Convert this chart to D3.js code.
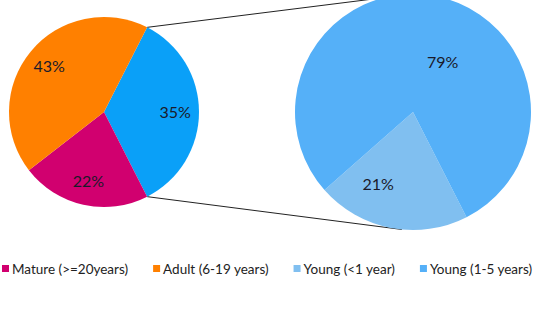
<!DOCTYPE html>
<html>
<head>
<meta charset="utf-8">
<script src="https://cdn.jsdelivr.net/npm/d3@7"></script>
<style>
  body { margin: 0; background: #fff; }
  svg { display: block; font-family: Lato, "Open Sans", sans-serif; }
</style>
</head>
<body>
<div id="chart"></div>
<script>
'use strict';

// primary pie: the "other" slice (young, combined) comes first
var primaryLabels = ['Young (all)', 'Mature (>=20years)', 'Adult (6-19 years)'];
var primaryValues = [35, 22, 43];
var primaryColors = ['#0aa0f8', '#d1006f', '#ff8000'];

// secondary pie breaks the young slice down
var secondaryLabels = ['Young (<1 year)', 'Young (1-5 years)'];
var secondaryValues = [21, 79];
var secondaryColors = ['#80bff0', '#55b0f8'];

var legendLabels = ['Mature (>=20years)', 'Adult (6-19 years)', 'Young (<1 year)', 'Young (1-5 years)'];
var legendColors = ['#d1006f', '#ff8000', '#80bff0', '#55b0f8'];

var width = 545, height = 320;
var c1 = {x: 104, y: 112, r: 95};
var c2 = {x: 413, y: 112, r: 118};

var svg = d3.select('#chart').append('svg')
	.attr('width', width)
	.attr('height', height);

var total1 = d3.sum(primaryValues);
var otherSpan = primaryValues[0] / total1 * 2 * Math.PI;
var start1 = Math.PI / 2 - otherSpan / 2;

var pie1 = d3.pie().sort(null).startAngle(start1).endAngle(start1 + 2 * Math.PI);
var pie2 = d3.pie().sort(null).startAngle(start1 + otherSpan).endAngle(start1 + otherSpan + 2 * Math.PI);

var arc1 = d3.arc().innerRadius(0).outerRadius(c1.r);
var arc2 = d3.arc().innerRadius(0).outerRadius(c2.r);

function polar(c, a, r) {
	return [c.x + r * Math.sin(a), c.y - r * Math.cos(a)];
}

// connector lines
var pa = polar(c1, start1, c1.r), pb = polar(c1, start1 + otherSpan, c1.r);
var qa = polar(c2, 0, c2.r), qb = polar(c2, Math.PI * 1.03, c2.r);
svg.append('g').selectAll('line')
	.data([[pa, qa], [pb, qb]])
	.enter().append('line')
	.attr('x1', function(d) { return d[0][0]; })
	.attr('y1', function(d) { return d[0][1]; })
	.attr('x2', function(d) { return d[1][0]; })
	.attr('y2', function(d) { return d[1][1]; })
	.style('stroke', '#222')
	.style('stroke-width', 1);

var g1 = svg.append('g').attr('transform', 'translate(' + c1.x + ',' + c1.y + ')');
var arcs1 = pie1(primaryValues);
g1.selectAll('path').data(arcs1).enter().append('path')
	.attr('d', arc1)
	.style('fill', function(d, i) { return primaryColors[i]; });

var lab1 = d3.arc().innerRadius(c1.r * 0.75).outerRadius(c1.r * 0.75);
g1.selectAll('text').data(arcs1).enter().append('text')
	.attr('transform', function(d) { return 'translate(' + lab1.centroid(d) + ')'; })
	.attr('text-anchor', 'middle')
	.attr('dy', '0.36em')
	.style('font-size', '16px')
	.style('fill', '#1a1a2a')
	.text(function(d) { return d.value + '%'; });

var g2 = svg.append('g').attr('transform', 'translate(' + c2.x + ',' + c2.y + ')');
var arcs2 = pie2(secondaryValues);
g2.selectAll('path').data(arcs2).enter().append('path')
	.attr('d', arc2)
	.style('fill', function(d, i) { return secondaryColors[i]; });

// label placement in the small pie (radius fraction, angle nudge)
var lab2Pos = [[0.68, 0.26], [0.49, 0.35]];
g2.selectAll('text').data(arcs2).enter().append('text')
	.attr('transform', function(d, i) {
		var a = (d.startAngle + d.endAngle) / 2 + lab2Pos[i][1];
		var r = c2.r * lab2Pos[i][0];
		return 'translate(' + (r * Math.sin(a)) + ',' + (-r * Math.cos(a)) + ')';
	})
	.attr('text-anchor', 'middle')
	.attr('dy', '0.36em')
	.style('font-size', '16px')
	.style('fill', '#1a1a2a')
	.text(function(d) { return d.value + '%'; });

// legend
var legend = svg.append('g').attr('transform', 'translate(2,269)');
var x = 0;
legendLabels.forEach(function(l, i) {
	var item = legend.append('g').attr('transform', 'translate(' + x + ',0)');
	item.append('rect')
		.attr('x', 0).attr('y', -4)
		.attr('width', 7).attr('height', 7)
		.style('fill', legendColors[i]);
	var t = item.append('text')
		.attr('x', 10)
		.attr('dy', '0.36em')
		.style('font-size', '13.5px')
		.style('fill', '#222')
		.text(l);
	x += 10 + t.node().getComputedTextLength() + 25;
});
</script>
</body>
</html>
